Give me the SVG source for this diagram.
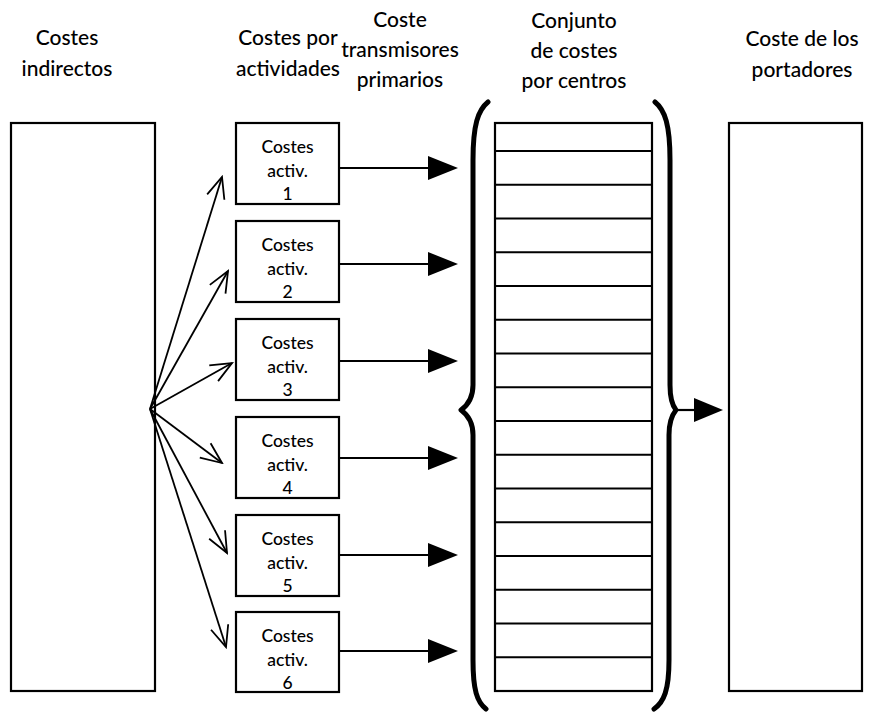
<svg xmlns="http://www.w3.org/2000/svg" width="874" height="714" viewBox="0 0 874 714">
  <style>
    .hdr { font-family: Lato, "Open Sans", "Liberation Sans", sans-serif; font-size: 21px; font-weight: 500; fill: #000; text-anchor: middle; }
    .lbl { font-family: Lato, "Open Sans", "Liberation Sans", sans-serif; font-size: 17.5px; font-weight: 500; fill: #000; text-anchor: middle; }
    .box { fill: #fff; stroke: #000; stroke-width: 2.2; }
    .row { stroke: #000; stroke-width: 2.2; fill: none; }
    .brace { fill: none; stroke: #000; stroke-width: 5; stroke-linecap: round; stroke-linejoin: round; }
    .fan { stroke: #000; stroke-width: 1.8; fill: none; marker-end: url(#open); }
    .flow { stroke: #000; stroke-width: 2.2; fill: none; }
    .head { fill: #000; }
  </style>
  <defs>
    <marker id="open" markerWidth="24" markerHeight="22" refX="22" refY="11" orient="auto" markerUnits="userSpaceOnUse">
      <path d="M1,2 L22,11 L1,20" fill="none" stroke="#000" stroke-width="1.8"/>
    </marker>
  </defs>

  <!-- column headings -->
  <g id="headings">
    <text class="hdr" x="67" y="45">Costes</text>
    <text class="hdr" x="67" y="76">indirectos</text>
    <text class="hdr" x="288" y="45">Costes por</text>
    <text class="hdr" x="288" y="76">actividades</text>
    <text class="hdr" x="400" y="27">Coste</text>
    <text class="hdr" x="400" y="57">transmisores</text>
    <text class="hdr" x="400" y="87">primarios</text>
    <text class="hdr" x="574" y="28">Conjunto</text>
    <text class="hdr" x="574" y="58">de costes</text>
    <text class="hdr" x="574" y="88">por centros</text>
    <text class="hdr" x="802" y="46">Coste de los</text>
    <text class="hdr" x="802" y="77">portadores</text>
  </g>

  <!-- indirect costs -->
  <g id="indirectos">
    <rect class="box" x="11" y="123" width="144" height="568"/>
  </g>

  <!-- activity cost boxes -->
  <g id="activ1">
    <rect class="box" x="236" y="123" width="103" height="81"/>
    <text class="lbl" x="287.5" y="153">Costes</text>
    <text class="lbl" x="287.5" y="177">activ.</text>
    <text class="lbl" x="287.5" y="200">1</text>
  </g>
  <g id="activ2">
    <rect class="box" x="236" y="221" width="103" height="81"/>
    <text class="lbl" x="287.5" y="251">Costes</text>
    <text class="lbl" x="287.5" y="275">activ.</text>
    <text class="lbl" x="287.5" y="298">2</text>
  </g>
  <g id="activ3">
    <rect class="box" x="236" y="319" width="103" height="81"/>
    <text class="lbl" x="287.5" y="349">Costes</text>
    <text class="lbl" x="287.5" y="373">activ.</text>
    <text class="lbl" x="287.5" y="396">3</text>
  </g>
  <g id="activ4">
    <rect class="box" x="236" y="417" width="103" height="81"/>
    <text class="lbl" x="287.5" y="447">Costes</text>
    <text class="lbl" x="287.5" y="471">activ.</text>
    <text class="lbl" x="287.5" y="494">4</text>
  </g>
  <g id="activ5">
    <rect class="box" x="236" y="515" width="103" height="81"/>
    <text class="lbl" x="287.5" y="545">Costes</text>
    <text class="lbl" x="287.5" y="569">activ.</text>
    <text class="lbl" x="287.5" y="592">5</text>
  </g>
  <g id="activ6">
    <rect class="box" x="236" y="612" width="103" height="80"/>
    <text class="lbl" x="287.5" y="642">Costes</text>
    <text class="lbl" x="287.5" y="666">activ.</text>
    <text class="lbl" x="287.5" y="689">6</text>
  </g>

  <!-- cost centre pool -->
  <g id="centros">
    <rect class="box" x="495" y="123" width="157" height="568"/>
    <path class="row" d="M495,151H652 M495,184.75H652 M495,218.5H652 M495,252.25H652 M495,286H652 M495,319.75H652 M495,353.5H652 M495,387.25H652 M495,421H652 M495,454.75H652 M495,488.5H652 M495,522.25H652 M495,556H652 M495,589.75H652 M495,623.5H652 M495,657.25H652"/>
    <path class="brace" d="M488,102 C478,110 473,125 473,160 L473,385 C473,398 468,405 461,410 C468,415 473,422 473,435 L473,660 C473,690 477,702 486,709"/>
    <path class="brace" d="M655,102 C665,110 670,125 670,160 L670,385 C670,398 672,405 676,410 C672,415 669,422 669,435 L669,660 C669,690 664,702 654,709"/>
  </g>

  <!-- cost carriers -->
  <g id="portadores">
    <rect class="box" x="729" y="123" width="133" height="568"/>
  </g>

  <!-- connectors -->
  <g id="connectors">
    <line class="fan" x1="150" y1="409" x2="222" y2="177"/>
    <line class="fan" x1="150" y1="409" x2="228" y2="271"/>
    <line class="fan" x1="150" y1="409" x2="232" y2="363"/>
    <line class="fan" x1="150" y1="409" x2="222" y2="463"/>
    <line class="fan" x1="150" y1="409" x2="227" y2="553"/>
    <line class="fan" x1="150" y1="409" x2="226" y2="647"/>

    <line class="flow" x1="339" y1="168" x2="432" y2="168"/>
    <path class="head" d="M428,156 L458,168 L428,180 Z"/>
    <line class="flow" x1="339" y1="264" x2="432" y2="264"/>
    <path class="head" d="M428,252 L458,264 L428,276 Z"/>
    <line class="flow" x1="339" y1="361" x2="432" y2="361"/>
    <path class="head" d="M428,349 L458,361 L428,373 Z"/>
    <line class="flow" x1="339" y1="458" x2="432" y2="458"/>
    <path class="head" d="M428,446 L458,458 L428,470 Z"/>
    <line class="flow" x1="339" y1="555" x2="432" y2="555"/>
    <path class="head" d="M428,543 L458,555 L428,567 Z"/>
    <line class="flow" x1="339" y1="651" x2="432" y2="651"/>
    <path class="head" d="M428,639 L458,651 L428,663 Z"/>

    <line class="flow" x1="676" y1="410" x2="698" y2="410"/>
    <path class="head" d="M694,398 L723,410 L694,422 Z"/>
  </g>
</svg>
